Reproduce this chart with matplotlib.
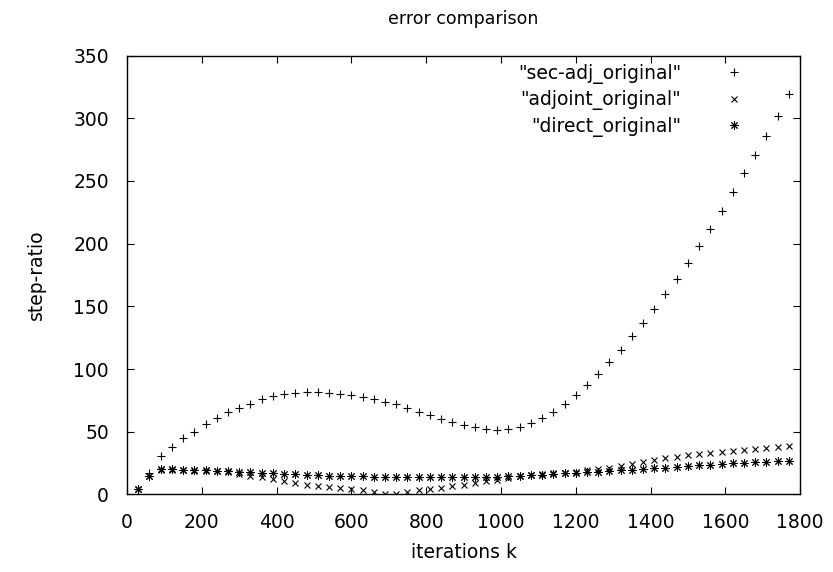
import matplotlib
matplotlib.use('Agg')
import matplotlib.pyplot as plt

plt.rcParams['font.family'] = ['DejaVu Sans']

# iterations k
iterations = [30, 60, 90, 120, 150, 180, 210, 240, 270, 300,
              330, 360, 390, 420, 450, 480, 510, 540, 570, 600,
              630, 660, 690, 720, 750, 780, 810, 840, 870, 900,
              930, 960, 990, 1020, 1050, 1080, 1110, 1140, 1170, 1200,
              1230, 1260, 1290, 1320, 1350, 1380, 1410, 1440, 1470, 1500,
              1530, 1560, 1590, 1620, 1650, 1680, 1710, 1740, 1770]

sec_adj = [4, 17, 31, 38, 45, 50, 56, 61, 65.5, 69,
           72.5, 76, 78.5, 80, 81, 81.5, 81.5, 81, 80.5, 79.5,
           78, 76, 74, 72, 69, 66, 63.5, 60.5, 58, 55.5,
           53.5, 52, 51.5, 52, 54, 57, 61, 66, 72, 79,
           87, 96, 105.5, 115.5, 126, 137, 148, 160, 172, 185,
           198, 212, 226, 241, 256, 271, 286, 302, 319]

adjoint = [4, 15, 19.5, 19.5, 19.5, 19, 19, 18.5, 18, 16.5,
           15, 13.8, 12.7, 10.8, 9.2, 7.7, 6.4, 5.7, 5, 4,
           3.3, 2.2, 0.4, 0.5, 2.2, 3.5, 4.2, 5.5, 6.4, 7.6,
           9, 10.4, 11.8, 13.3, 14.5, 15.3, 16, 16.8, 17.5, 18.3,
           19.3, 20.3, 21.4, 22.7, 24.2, 26, 27.5, 28.9, 30.1, 31.4,
           32.3, 33.3, 34.1, 34.9, 35.6, 36.3, 36.9, 37.7, 38.7]

direct = [4, 14.5, 20, 20, 19.8, 19.6, 19.3, 18.9, 18.6, 18.2,
          17.7, 17.4, 16.9, 16.4, 16.1, 15.6, 15.2, 15, 14.8, 14.6,
          14.4, 14.2, 14, 14, 13.9, 13.8, 13.8, 13.8, 13.8, 13.8,
          13.8, 13.9, 14.1, 14.4, 14.8, 15.2, 15.7, 16.3, 16.8, 17.3,
          17.8, 18.3, 18.8, 19.2, 19.7, 20.2, 20.9, 21.4, 22.1, 22.7,
          23.4, 23.9, 24.3, 24.8, 25.2, 25.7, 26.1, 26.6, 26.9]

x_ticks = [0, 200, 400, 600, 800, 1000, 1200, 1400, 1600, 1800]
y_ticks = [0, 50, 100, 150, 200, 250, 300, 350]

fig = plt.figure(figsize=(8.33, 5.72), dpi=100)
ax = fig.add_axes([0.1525, 0.1355, 0.808, 0.7673])

ax.plot(iterations, sec_adj, ls='none', marker='+', ms=6, mew=0.8,
        color='black', label='"sec-adj_original"')
ax.plot(iterations, adjoint, ls='none', marker='x', ms=5, mew=0.8,
        color='black', label='"adjoint_original"')
ax.plot(iterations, direct, ls='none', marker=(8, 2, 0), ms=6, mew=0.7,
        color='black', label='"direct_original"')

ax.set_xlim(0, 1800)
ax.set_ylim(0, 350)
ax.set_xticks(x_ticks)
ax.set_yticks(y_ticks)
ax.tick_params(direction='in', top=True, right=True, length=5, width=0.8,
               labelsize=13.5, pad=13)
for s in ax.spines.values():
    s.set_linewidth(1.0)

ax.set_title('error comparison', fontsize=12.5, pad=23)
ax.set_xlabel('iterations k', fontsize=13.5, labelpad=8)
ax.set_ylabel('step-ratio', fontsize=13.5, labelpad=20)

ax.legend(loc='upper right', bbox_to_anchor=(0.929, 0.981), frameon=False,
          markerfirst=False, handlelength=2, handletextpad=1.8,
          borderpad=0, borderaxespad=0, labelspacing=0.35,
          fontsize=13.5, numpoints=1)

fig.savefig('out.png', dpi=100)
